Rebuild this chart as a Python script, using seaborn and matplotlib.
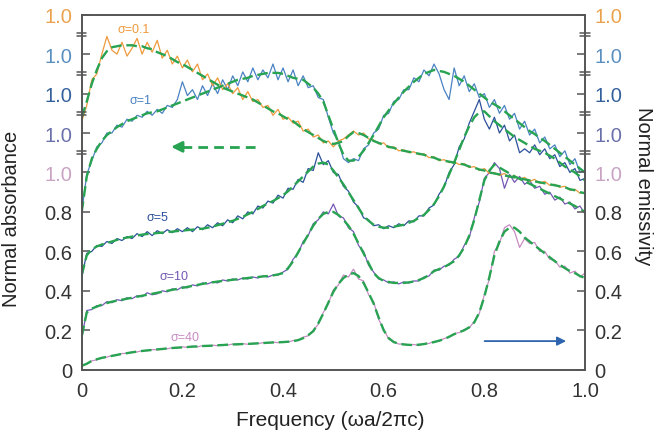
import numpy as np
import matplotlib
matplotlib.use("Agg")
import matplotlib.pyplot as plt
import seaborn as sns

# frequency grid (omega a / 2 pi c)
freq = np.round(np.arange(0, 1.001, 0.01), 2)

# measured spectra, each stacked with its own offset
sig01_data = [1.26, 1.34, 1.47, 1.50, 1.60, 1.69, 1.62, 1.60, 1.66, 1.59, 1.63, 1.68, 1.60, 1.66, 1.61, 1.67, 1.58, 1.62, 1.55, 1.59,
              1.53, 1.57, 1.51, 1.55, 1.47, 1.50, 1.44, 1.48, 1.42, 1.45, 1.40, 1.43, 1.37, 1.41, 1.36, 1.37, 1.33, 1.34, 1.29, 1.32,
              1.27, 1.28, 1.25, 1.26, 1.21, 1.22, 1.18, 1.19, 1.15, 1.16, 1.13, 1.16, 1.17, 1.19, 1.21, 1.19, 1.20, 1.17, 1.165, 1.145,
              1.15, 1.125, 1.13, 1.11, 1.115, 1.10, 1.105, 1.09, 1.095, 1.075, 1.08, 1.06, 1.065, 1.05, 1.055, 1.04, 1.045, 1.025, 1.03, 1.01,
              1.02, 0.995, 1.00, 0.985, 0.995, 0.975, 0.985, 0.965, 0.975, 0.955, 0.965, 0.945, 0.955, 0.935, 0.94, 0.925, 0.93, 0.91, 0.915, 0.895,
              0.90]
sig1_data = [0.80, 0.99, 1.06, 1.13, 1.15, 1.20, 1.20, 1.24, 1.23, 1.27, 1.26, 1.29, 1.28, 1.31, 1.29, 1.32, 1.30, 1.34, 1.33, 1.37,
             1.46, 1.39, 1.42, 1.37, 1.44, 1.39, 1.45, 1.40, 1.47, 1.42, 1.49, 1.44, 1.51, 1.46, 1.53, 1.47, 1.52, 1.48, 1.55, 1.47,
             1.53, 1.46, 1.52, 1.44, 1.49, 1.43, 1.44, 1.38, 1.37, 1.28, 1.20, 1.16, 1.07, 1.05, 1.07, 1.06, 1.12, 1.14, 1.20, 1.22,
             1.29, 1.30, 1.36, 1.37, 1.42, 1.42, 1.48, 1.46, 1.52, 1.49, 1.55, 1.50, 1.42, 1.37, 1.53, 1.44, 1.49, 1.41, 1.45, 1.38,
             1.40, 1.33, 1.37, 1.30, 1.34, 1.27, 1.30, 1.22, 1.26, 1.19, 1.22, 1.15, 1.18, 1.12, 1.14, 1.08, 1.11, 1.04, 1.07, 1.00,
             1.01]
sig5_data = [0.47, 0.59, 0.60, 0.63, 0.625, 0.65, 0.64, 0.665, 0.655, 0.675, 0.665, 0.69, 0.675, 0.70, 0.68, 0.705, 0.69, 0.71, 0.695, 0.715,
             0.70, 0.72, 0.70, 0.725, 0.71, 0.735, 0.72, 0.745, 0.73, 0.76, 0.745, 0.78, 0.765, 0.80, 0.79, 0.83, 0.82, 0.855, 0.845, 0.885,
             0.87, 0.92, 0.915, 0.965, 0.95, 1.02, 1.01, 1.10, 1.04, 1.06, 1.00, 0.99, 0.93, 0.905, 0.85, 0.825, 0.77, 0.76, 0.73, 0.735,
             0.715, 0.73, 0.72, 0.74, 0.73, 0.755, 0.75, 0.78, 0.78, 0.82, 0.835, 0.89, 0.925, 1.00, 1.04, 1.13, 1.17, 1.25, 1.31, 1.37,
             1.27, 1.22, 1.28, 1.20, 1.24, 1.16, 1.19, 1.10, 1.12, 1.10, 1.14, 1.09, 1.12, 1.07, 1.09, 1.03, 1.05, 1.00, 1.02, 0.96,
             0.97]
sig10_data = [0.16, 0.30, 0.305, 0.325, 0.325, 0.345, 0.34, 0.355, 0.35, 0.365, 0.36, 0.375, 0.37, 0.39, 0.38, 0.385, 0.40, 0.395, 0.41, 0.405,
              0.42, 0.415, 0.43, 0.425, 0.44, 0.435, 0.445, 0.44, 0.455, 0.45, 0.46, 0.455, 0.465, 0.46, 0.47, 0.465, 0.475, 0.47, 0.48, 0.48,
              0.495, 0.51, 0.56, 0.59, 0.65, 0.68, 0.74, 0.76, 0.80, 0.79, 0.84, 0.78, 0.77, 0.72, 0.70, 0.63, 0.60, 0.53, 0.495, 0.46,
              0.455, 0.44, 0.445, 0.435, 0.445, 0.44, 0.45, 0.45, 0.47, 0.475, 0.505, 0.505, 0.525, 0.53, 0.56, 0.575, 0.63, 0.67, 0.77, 0.85,
              0.97, 1.00, 1.05, 1.02, 0.92, 0.99, 0.95, 0.98, 0.94, 0.96, 0.92, 0.93, 0.89, 0.90, 0.86, 0.875, 0.84, 0.85, 0.815, 0.83,
              0.79]
sig40_data = [0.02, 0.03, 0.045, 0.05, 0.062, 0.064, 0.072, 0.074, 0.082, 0.083, 0.09, 0.09, 0.097, 0.096, 0.102, 0.101, 0.107, 0.106, 0.112, 0.11,
              0.116, 0.113, 0.119, 0.116, 0.122, 0.119, 0.124, 0.122, 0.127, 0.125, 0.13, 0.127, 0.132, 0.129, 0.134, 0.132, 0.137, 0.135, 0.14, 0.137,
              0.142, 0.14, 0.148, 0.148, 0.165, 0.172, 0.20, 0.23, 0.29, 0.335, 0.405, 0.43, 0.48, 0.47, 0.51, 0.46, 0.45, 0.38, 0.345, 0.255,
              0.205, 0.155, 0.142, 0.13, 0.13, 0.124, 0.128, 0.122, 0.132, 0.133, 0.143, 0.145, 0.158, 0.165, 0.183, 0.188, 0.203, 0.212, 0.245, 0.285,
              0.38, 0.46, 0.60, 0.64, 0.72, 0.735, 0.70, 0.62, 0.665, 0.64, 0.645, 0.60, 0.60, 0.56, 0.555, 0.52, 0.525, 0.49, 0.50, 0.47,
              0.49]

# model fits (green dashed)
sig01_fit = [1.28, 1.36, 1.45, 1.52, 1.58, 1.615, 1.635, 1.64, 1.645, 1.645, 1.645, 1.64, 1.64, 1.63, 1.625, 1.61, 1.60, 1.59, 1.575, 1.56,
             1.55, 1.535, 1.52, 1.505, 1.49, 1.475, 1.46, 1.445, 1.43, 1.42, 1.41, 1.40, 1.39, 1.38, 1.37, 1.355, 1.34, 1.325, 1.31, 1.30,
             1.285, 1.27, 1.26, 1.24, 1.22, 1.205, 1.19, 1.175, 1.16, 1.15, 1.145, 1.15, 1.16, 1.185, 1.205, 1.20, 1.19, 1.175, 1.16, 1.15,
             1.14, 1.13, 1.125, 1.115, 1.11, 1.105, 1.10, 1.095, 1.09, 1.08, 1.075, 1.065, 1.06, 1.055, 1.05, 1.045, 1.04, 1.03, 1.025, 1.015,
             1.01, 1.00, 0.995, 0.99, 0.985, 0.98, 0.975, 0.97, 0.965, 0.96, 0.955, 0.95, 0.945, 0.94, 0.935, 0.93, 0.925, 0.915, 0.91, 0.90,
             0.895]
sig1_fit = [0.80, 0.98, 1.07, 1.12, 1.16, 1.19, 1.21, 1.23, 1.245, 1.26, 1.27, 1.28, 1.29, 1.30, 1.305, 1.31, 1.32, 1.33, 1.34, 1.35,
            1.36, 1.37, 1.38, 1.39, 1.40, 1.41, 1.42, 1.43, 1.44, 1.45, 1.46, 1.47, 1.475, 1.48, 1.49, 1.495, 1.50, 1.505, 1.505, 1.505,
            1.50, 1.49, 1.48, 1.475, 1.47, 1.45, 1.43, 1.40, 1.36, 1.29, 1.22, 1.15, 1.09, 1.06, 1.06, 1.08, 1.11, 1.15, 1.19, 1.235,
            1.28, 1.315, 1.35, 1.38, 1.41, 1.435, 1.46, 1.48, 1.50, 1.51, 1.52, 1.515, 1.51, 1.50, 1.49, 1.475, 1.46, 1.44, 1.42, 1.40,
            1.38, 1.36, 1.345, 1.33, 1.31, 1.29, 1.27, 1.25, 1.23, 1.21, 1.195, 1.175, 1.16, 1.14, 1.12, 1.10, 1.08, 1.06, 1.04, 1.02,
            1.00]
sig5_fit = [0.48, 0.58, 0.61, 0.625, 0.635, 0.643, 0.65, 0.658, 0.665, 0.67, 0.675, 0.68, 0.685, 0.688, 0.69, 0.693, 0.695, 0.698, 0.70, 0.703,
            0.705, 0.708, 0.71, 0.713, 0.715, 0.72, 0.725, 0.733, 0.74, 0.748, 0.755, 0.765, 0.775, 0.788, 0.80, 0.815, 0.83, 0.843, 0.855, 0.87,
            0.885, 0.905, 0.93, 0.955, 0.98, 1.005, 1.03, 1.045, 1.05, 1.04, 1.01, 0.975, 0.94, 0.90, 0.86, 0.82, 0.78, 0.755, 0.735, 0.725,
            0.72, 0.72, 0.725, 0.73, 0.735, 0.745, 0.755, 0.77, 0.785, 0.81, 0.84, 0.88, 0.93, 0.99, 1.05, 1.115, 1.18, 1.235, 1.28, 1.305,
            1.31, 1.285, 1.26, 1.24, 1.22, 1.20, 1.18, 1.165, 1.15, 1.135, 1.12, 1.11, 1.10, 1.085, 1.07, 1.05, 1.03, 1.015, 1.00, 0.98,
            0.96]
sig10_fit = [0.17, 0.29, 0.31, 0.32, 0.33, 0.338, 0.345, 0.35, 0.355, 0.36, 0.365, 0.37, 0.375, 0.38, 0.385, 0.39, 0.395, 0.40, 0.405, 0.41,
             0.415, 0.42, 0.425, 0.43, 0.435, 0.44, 0.443, 0.447, 0.45, 0.453, 0.456, 0.459, 0.462, 0.465, 0.468, 0.47, 0.473, 0.475, 0.478, 0.483,
             0.49, 0.515, 0.55, 0.595, 0.64, 0.685, 0.73, 0.765, 0.79, 0.80, 0.80, 0.785, 0.76, 0.73, 0.69, 0.64, 0.59, 0.54, 0.49, 0.465,
             0.45, 0.445, 0.44, 0.44, 0.44, 0.443, 0.447, 0.455, 0.465, 0.48, 0.50, 0.51, 0.52, 0.535, 0.55, 0.58, 0.62, 0.68, 0.76, 0.86,
             0.96, 1.01, 1.04, 1.025, 1.01, 0.995, 0.98, 0.968, 0.955, 0.943, 0.93, 0.918, 0.905, 0.893, 0.88, 0.868, 0.855, 0.843, 0.83, 0.815,
             0.80]
sig40_fit = [0.02, 0.03, 0.045, 0.053, 0.06, 0.065, 0.07, 0.075, 0.08, 0.084, 0.088, 0.092, 0.095, 0.098, 0.10, 0.103, 0.105, 0.108, 0.11, 0.112,
             0.113, 0.115, 0.117, 0.118, 0.12, 0.121, 0.122, 0.124, 0.125, 0.127, 0.128, 0.129, 0.13, 0.131, 0.132, 0.134, 0.135, 0.137, 0.138, 0.139,
             0.14, 0.142, 0.145, 0.15, 0.16, 0.175, 0.195, 0.235, 0.285, 0.34, 0.395, 0.435, 0.465, 0.482, 0.49, 0.475, 0.44, 0.39, 0.335, 0.265,
             0.20, 0.16, 0.14, 0.132, 0.128, 0.126, 0.125, 0.127, 0.13, 0.135, 0.14, 0.147, 0.155, 0.167, 0.18, 0.19, 0.20, 0.215, 0.24, 0.29,
             0.37, 0.47, 0.58, 0.65, 0.70, 0.72, 0.72, 0.70, 0.67, 0.65, 0.63, 0.61, 0.59, 0.57, 0.55, 0.532, 0.515, 0.50, 0.49, 0.475,
             0.465]

sigma_labels = ["σ=0.1", "σ=1", "σ=5", "σ=10", "σ=40"]
label_pos = [(0.104, 1.73), (0.116, 1.37), (0.15, 0.775), (0.183, 0.475), (0.205, 0.165)]
colors = ["#ee9a3c", "#4a82c2", "#2c509a", "#7458b4", "#c88cc4"]

ytick_vals = [0, 0.2, 0.4, 0.6, 0.8, 1.0, 1.2, 1.4, 1.6, 1.8]
ytick_text = ["0", "0.2", "0.4", "0.6", "0.8", "1.0", "1.0", "1.0", "1.0", "1.0"]
ytick_colors = ["#333333"] * 5 + ["#c9a3c3", "#6a70aa", "#34609c", "#5a8fc0", "#eaa24e"]
break_vals = [1.1, 1.3, 1.5, 1.7]
xtick_vals = [0, 0.2, 0.4, 0.6, 0.8, 1.0]
xtick_text = ["0", "0.2", "0.4", "0.6", "0.8", "1.0"]

green = "#27a352"
spine_col = "#555555"

sns.set_style("white")
plt.rcParams["font.family"] = ["Liberation Sans", "DejaVu Sans"]

fig = plt.figure(figsize=(6.57, 4.35), dpi=100)
ax = fig.add_axes([0.1244, 0.1478, 0.766, 0.8161])

data_sets = [sig01_data, sig1_data, sig5_data, sig10_data, sig40_data]
fit_sets = [sig01_fit, sig1_fit, sig5_fit, sig10_fit, sig40_fit]

for data, col in zip(data_sets[::-1], colors[::-1]):
    sns.lineplot(x=freq, y=data, color=col, lw=0.9, ax=ax, legend=False)
for fit in fit_sets[::-1]:
    sns.lineplot(x=freq, y=fit, color=green, lw=1.7, linestyle=(0, (4.5, 2)), ax=ax, legend=False)

for txt, (fx, fy), col in zip(sigma_labels, label_pos, colors):
    ax.text(fx, fy, txt, color=col, fontsize=9, ha="center", va="center")

# direction arrows
ax.plot([0.20, 0.35], [1.13, 1.13], color=green, lw=2, linestyle=(0, (3.5, 2.2)))
ax.annotate("", xy=(0.172, 1.13), xytext=(0.205, 1.13),
            arrowprops=dict(arrowstyle="-|>", color=green, lw=2, mutation_scale=16))
ax.annotate("", xy=(0.968, 0.145), xytext=(0.795, 0.145),
            arrowprops=dict(arrowstyle="-|>", color="#2d64ad", lw=1.3, mutation_scale=13))

ax.set_xlim(0, 1.0)
ax.set_ylim(0, 1.8)
ax.set_xticks(xtick_vals)
ax.set_xticklabels(xtick_text)
ax.set_xticks([0.1, 0.3, 0.5, 0.7, 0.9], minor=True)
ax.set_yticks(ytick_vals)
ax.set_yticklabels(ytick_text)
ax.tick_params(axis="both", which="both", direction="in", length=6, width=1.1,
               color=spine_col, labelsize=14.5, labelcolor="#333333")
ax.tick_params(axis="x", which="minor", length=5)
ax.tick_params(axis="x", pad=8)
ax.tick_params(axis="y", pad=7)
for lab, col in zip(ax.get_yticklabels(), ytick_colors):
    lab.set_color(col)

ax2 = ax.twinx()
ax2.set_position(ax.get_position())
ax2.set_ylim(0, 1.8)
ax2.set_yticks(ytick_vals)
ax2.set_yticklabels(ytick_text)
ax2.tick_params(axis="y", direction="in", length=6, width=1.1, color=spine_col,
                labelsize=14.5, pad=7)
for lab, col in zip(ax2.get_yticklabels(), ytick_colors):
    lab.set_color(col)

for a in (ax, ax2):
    for sp in a.spines.values():
        sp.set_color(spine_col)
        sp.set_linewidth(1.2)

# axis break marks on both vertical spines
trans = ax.get_yaxis_transform()
for yb in break_vals:
    for xc in (0.0, 1.0):
        for dy in (-0.008, 0.008):
            ax.plot([xc - 0.009, xc + 0.009], [yb + dy, yb + dy], color=spine_col,
                    lw=1.1, transform=trans, clip_on=False)

ax.set_xlabel("Frequency (ωa/2πc)", fontsize=15, color="#222222")
ax.xaxis.set_label_coords(0.493, -0.113)
ax.set_ylabel("Normal absorbance", fontsize=14.5, color="#222222")
ax.yaxis.set_label_coords(-0.121, 0.427)
ax2.set_ylabel("Normal emissivity", fontsize=14.5, color="#222222", rotation=270, va="center")
ax2.yaxis.set_label_coords(1.117, 0.52)

fig.savefig("out.png", dpi=100)
